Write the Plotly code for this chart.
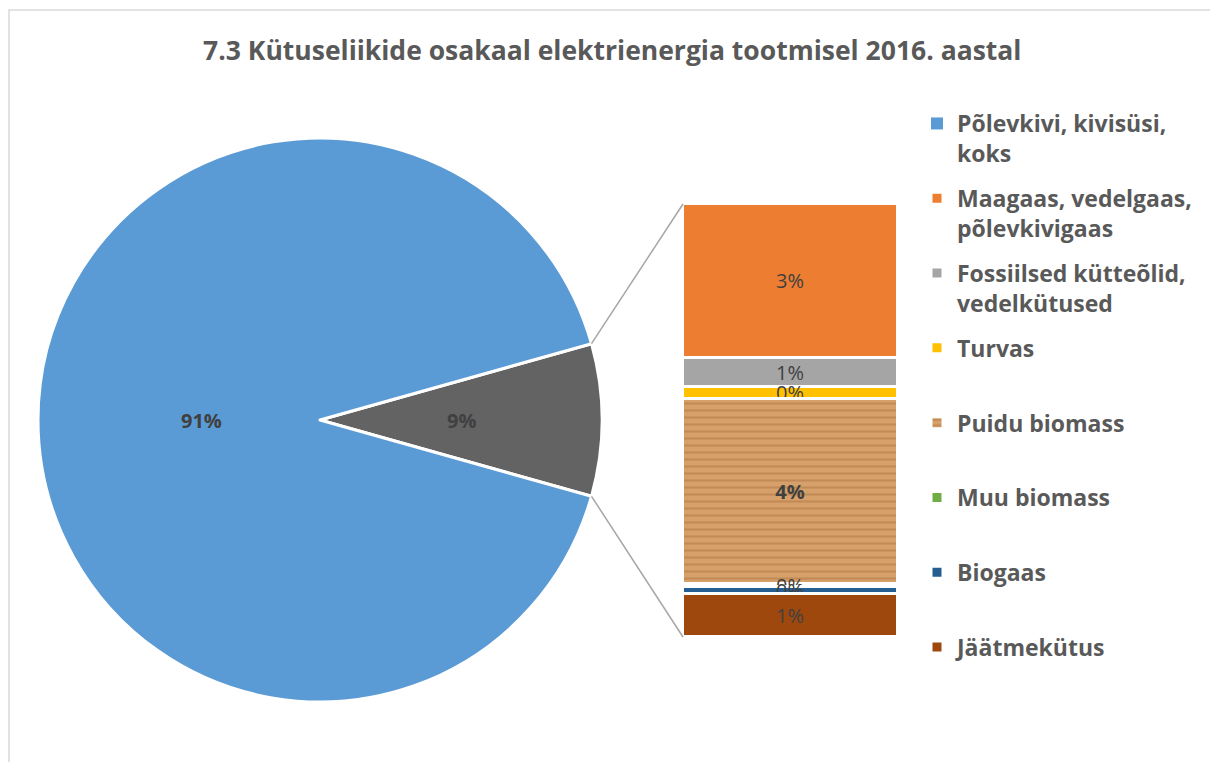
import numpy as np
import plotly.graph_objects as go

W, H = 1210, 762

# data (shares of electricity production, %)
main_label = "Põlevkivi, kivisüsi,<br>koks"
main_value = 91.28

bar_labels = ["Maagaas, vedelgaas,<br>põlevkivigaas",
              "Fossiilsed kütteõlid,<br>vedelkütused",
              "Turvas<br> ",
              "Puidu biomass<br> ",
              "Muu biomass<br> ",
              "Biogaas<br> ",
              "Jäätmekütus<br> "]
bar_values = [3.11, 0.57, 0.24, 3.74, 0.06, 0.13, 0.87]
bar_colors = ["#ED7D31", "#A5A5A5", "#FFC000", "#D39B62", "#70AD47", "#255E91", "#9E480E"]

other_value = sum(bar_values)
total = main_value + other_value

#%%

# pixel geometry
cx, cy, R = 320, 420, 282
bar_x0, bar_x1 = 683, 898
bar_y0, bar_y1 = 204, 637

FONT = "Open Sans"

def px(x):
    return x / W

def py(y):
    return 1 - y / H

fig = go.Figure()

# pie: main slice + aggregated "other" slice, other centred at 3 o'clock
half = 360 * other_value / total / 2
fig.add_trace(go.Pie(
    labels=["other", "main"],
    values=[other_value, main_value],
    sort=False,
    direction="clockwise",
    rotation=90 - half,
    marker=dict(colors=["#636363", "#5B9BD5"], line=dict(color="white", width=3)),
    textinfo="none",
    domain=dict(x=[px(cx - R), px(cx + R)], y=[py(cy + R), py(cy - R)]),
    showlegend=False,
    hoverinfo="label+percent",
))

# pie labels at half radius on each slice bisector
annotations = []
for v, ang in [(main_value, 180), (other_value, 0)]:
    a = np.deg2rad(ang)
    annotations.append(dict(
        x=px(cx + 0.5 * R * np.cos(a)), y=py(cy - 0.5 * R * np.sin(a)),
        xref="paper", yref="paper", showarrow=False,
        text=f"{round(100 * v / total)}%",
        font=dict(family=FONT, size=20, color="#404040", weight="bold"),
    ))

# legend entry for the main pie category
fig.add_trace(go.Bar(
    x=[0], y=[0], base=[other_value], name=main_label, legendgroup="main",
    marker=dict(color="#5B9BD5", line=dict(width=0)), width=1,
    hoverinfo="skip",
))

# bar of the "other" slice, drawn top-down
top = other_value
for lab, val, col in zip(bar_labels, bar_values, bar_colors):
    marker = dict(color=col, line=dict(color="white", width=3))
    bold = "normal"
    if lab.startswith("Puidu"):
        marker["pattern"] = dict(shape="-", fgcolor="#AE7441", bgcolor="#D6A06A",
                                 size=7, solidity=0.3)
        bold = "bold"
    fig.add_trace(go.Bar(
        x=[0], y=[val], base=[top - val], name=lab, legendgroup=lab,
        marker=marker, width=1,
        texttemplate="%{y:.0f}%", textposition="inside", textangle=0,
        insidetextanchor="middle",
        textfont=dict(family=FONT, size=20, color="#404040", weight=bold),
    ))
    top -= val

# connector lines from the pie slice edges to the bar
a = np.deg2rad(half)
p_top = (cx + R * np.cos(a), cy - R * np.sin(a))
p_bot = (cx + R * np.cos(a), cy + R * np.sin(a))
shapes = [
    dict(type="line", xref="paper", yref="paper",
         x0=px(p_top[0]), y0=py(p_top[1]), x1=px(bar_x0), y1=py(bar_y0),
         line=dict(color="#A6A6A6", width=1.5)),
    dict(type="line", xref="paper", yref="paper",
         x0=px(p_bot[0]), y0=py(p_bot[1]), x1=px(bar_x0), y1=py(bar_y1),
         line=dict(color="#A6A6A6", width=1.5)),
    dict(type="rect", xref="paper", yref="paper",
         x0=px(9), y0=py(H + 20), x1=px(W + 20), y1=py(10),
         line=dict(color="#D9D9D9", width=1.5)),
]

fig.update_layout(
    width=W, height=H,
    margin=dict(l=0, r=0, t=0, b=0),
    paper_bgcolor="white", plot_bgcolor="white",
    barmode="overlay", bargap=0,
    title=dict(text="7.3 Kütuseliikide osakaal elektrienergia tootmisel 2016. aastal",
               x=0.506, xanchor="center", y=py(51), yanchor="middle",
               font=dict(family=FONT, size=26.5, color="#595959", weight="bold")),
    xaxis=dict(domain=[px(bar_x0), px(bar_x1)], range=[-0.5, 0.5], visible=False,
               fixedrange=True),
    yaxis=dict(domain=[py(bar_y1), py(bar_y0)], range=[0, other_value], visible=False,
               fixedrange=True),
    uniformtext=dict(minsize=20, mode="show"),
    legend=dict(x=px(917), y=py(102), xanchor="left", yanchor="top",
                traceorder="grouped", tracegroupgap=12, valign="top",
                itemwidth=30,
                font=dict(family=FONT, size=23, color="#595959", weight="bold")),
    shapes=shapes,
    annotations=annotations,
)

fig.write_html("out.html", config={"displayModeBar": False},
               post_script="document.body.style.margin='0';")
